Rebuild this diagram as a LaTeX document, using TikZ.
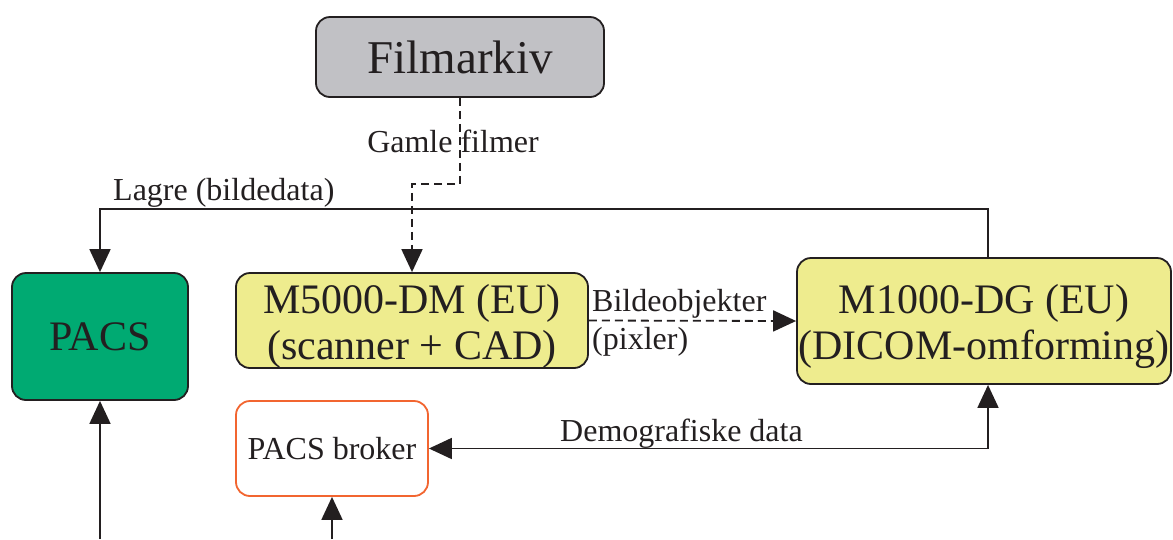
\documentclass[tikz,border=0pt]{standalone}
\usepackage{fontspec}
\setmainfont{Liberation Serif}
\usetikzlibrary{arrows.meta}
\definecolor{ink}{HTML}{231F20}
\definecolor{filmgray}{HTML}{C1C1C5}
\definecolor{pacsgreen}{HTML}{00AA72}
\definecolor{unityellow}{HTML}{EEEC8E}
\definecolor{brokerorange}{HTML}{F26530}
\begin{document}
\begin{tikzpicture}[x=1pt,y=-1pt,
  >={Triangle[length=23pt,width=21pt]},
  box/.style={draw=ink, line width=1.8pt, rounded corners=14pt, inner sep=0pt, text=ink},
  big/.style={font=\fontsize{42}{46}\selectfont, align=center, text=ink, inner sep=0pt},
  flow/.style={draw=ink, line width=1.8pt, ->},
  dashflow/.style={flow, dash pattern=on 8pt off 5pt},
  lbl/.style={text=ink, font=\fontsize{32}{34}\selectfont, inner sep=0pt}
]
\useasboundingbox (0,0) rectangle (1173,539);

% units
\node[box, fill=filmgray, minimum width=288pt, minimum height=80pt,
      font=\fontsize{47}{50}\selectfont] (film) at (460,57) {Filmarkiv};
\node[box, fill=pacsgreen, minimum width=176pt, minimum height=127pt, big] (pacs) at (100,336.5) {PACS};
\node[box, fill=unityellow, minimum width=352pt, minimum height=95pt] (m5) at (412,320.5) {};
\node[big] (m5text) at ([yshift=-6pt]m5.center) {M5000-DM (EU)\\(scanner + CAD)};
\node[box, fill=unityellow, minimum width=374pt, minimum height=126pt] (m1) at (984,321) {};
\node[big] (m1text) at ([yshift=-5pt]m1.center) {M1000-DG (EU)\\(DICOM-omforming)};
\node[box, draw=brokerorange, fill=white, minimum width=192pt, minimum height=95pt,
      font=\fontsize{32}{34}\selectfont] (broker) at (332,448.5) {PACS broker};

% routing points
\coordinate (jog) at (412,184);
\coordinate (storeturn) at (988,209);
\coordinate (pacsin) at (100,539);
\coordinate (brokerin) at (332,539);

% connectors
\draw[dashflow] (film.south) |- (jog) -- (m5.north);
\draw[flow] ([xshift=4pt]m1.north) -- (storeturn) -| (pacs.north);
\draw[dashflow] (m5.east) -- (m1.west);
\draw[flow, <->] (broker.east) -| ([xshift=4pt]m1.south);
\draw[flow] (pacsin) -- (pacs.south);
\draw[flow] (brokerin) -- (broker.south);

% labels
\node[lbl, anchor=base] (lgamle) at (453,152) {Gamle filmer};
\node[lbl, anchor=base west] (llagre) at (113,200) {Lagre (bildedata)};
\node[lbl, anchor=base west] (lbilde) at (592,311) {Bildeobjekter};
\node[lbl, anchor=base west] (lpix) at (592,349) {(pixler)};
\node[lbl, anchor=base west] (ldemo) at (560,441) {Demografiske data};
\end{tikzpicture}
\end{document}
